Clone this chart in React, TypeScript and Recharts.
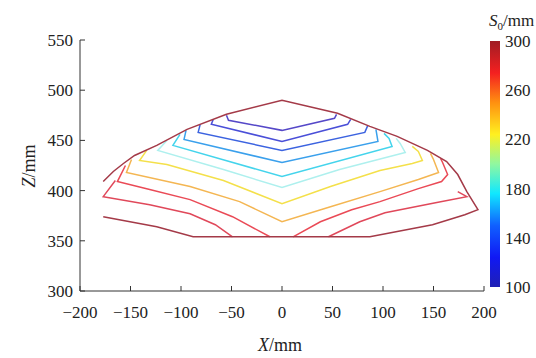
import React from 'react';
import { LineChart, Line, XAxis, YAxis, Label, BarChart, Bar } from 'recharts';

const FONT = '"Liberation Serif", "Times New Roman", serif';

type Pt = { x: number; z: number };
const pts = (a: number[][]): Pt[] => a.map(([x, z]) => ({ x, z }));

// axis ticks
const xTicks = [-200, -150, -100, -50, 0, 50, 100, 150, 200];
const zTicks = [300, 350, 400, 450, 500, 550];
const s0Ticks = [100, 140, 180, 220, 260, 300];
const s0Range = [{ name: 'S0', range: [100, 300] }];

// contour lines, [X, Z] in mm
const c120 = pts([[-55, 475], [-53, 470], [0, 460], [52, 472], [54, 476]]);
const c130 = pts([[-68, 471], [-70, 466], [0, 449], [65, 466], [68, 471]]);
const c140 = pts([[-81, 466], [-83, 458], [0, 440], [82, 458], [85, 465]]);
const c160 = pts([[-95, 460], [-97, 451], [0, 428], [95, 449], [93, 461]]);
const c180 = pts([[-101, 456], [-108, 445], [0, 414], [109, 444], [106, 452], [101, 457]]);
const c200 = pts([[-114, 450], [-123, 440], [-58, 421], [0, 403], [57, 421], [122, 438], [117, 447], [113, 452]]);
const c220 = pts([[-134, 440], [-141, 430], [-114, 426], [-58, 410], [0, 387], [48, 404], [97, 420], [129, 427], [139, 430], [135, 439], [129, 444]]);
const c240 = pts([[-149, 431], [-154, 418], [-91, 404], [-42, 389], [0, 369], [48, 384], [97, 399], [135, 411], [155, 418], [150, 431], [147, 437]]);
const c265L = pts([[-155, 425], [-163, 409], [-131, 401], [-91, 391], [-49, 374], [-12, 354]]);
const c265R = pts([[11, 354], [38, 369], [69, 381], [97, 389], [135, 402], [158, 409], [164, 416], [159, 428], [157, 432]]);
const c285L = pts([[-165, 410], [-177, 394], [-131, 386], [-91, 377], [-66, 366], [-49, 354]]);
const c285R = pts([[46, 354], [77, 369], [102, 378], [152, 388], [183, 394], [174, 399]]);
const c300 = pts([
  [-177, 409], [-167, 419], [-157, 427], [-146, 435], [-124, 445], [-94, 461], [-55, 476], [0, 490],
  [55, 477], [87, 464], [114, 454], [144, 440], [163, 429], [174, 416], [183, 399], [194, 381],
  [181, 376], [149, 366], [87, 354], [-88, 354], [-124, 364], [-177, 374],
]);

const contours = [
  { id: 'c120', color: '#5548c8', data: c120 },
  { id: 'c130', color: '#4a4fd8', data: c130 },
  { id: 'c140', color: '#3c63e0', data: c140 },
  { id: 'c160', color: '#3aa0ec', data: c160 },
  { id: 'c180', color: '#44d4ec', data: c180 },
  { id: 'c200', color: '#aef0ee', data: c200 },
  { id: 'c220', color: '#f4e04a', data: c220 },
  { id: 'c240', color: '#f4b652', data: c240 },
  { id: 'c265L', color: '#ea4a56', data: c265L },
  { id: 'c265R', color: '#ea4a56', data: c265R },
  { id: 'c285L', color: '#e0485a', data: c285L },
  { id: 'c285R', color: '#e0485a', data: c285R },
  { id: 'c300', color: '#a43a48', data: c300 },
];

const fmt = (v: number) => (v < 0 ? '\u2212' + Math.abs(v) : String(v));
const tickStyle = { fill: '#222', fontSize: 17, fontFamily: FONT };

function XTitle(props: any) {
  const vb = props.viewBox || { x: 80, width: 404 };
  return (
    <text x={vb.x + vb.width / 2 - 2} y={351} textAnchor="middle" fontFamily={FONT} fontSize={18} fill="#222">
      <tspan fontStyle="italic">X</tspan>/mm
    </text>
  );
}

function ZTitle() {
  return (
    <text x={35} y={166} transform="rotate(-90 35 166)" textAnchor="middle" fontFamily={FONT} fontSize={18} fill="#222">
      <tspan fontStyle="italic">Z</tspan>/mm
    </text>
  );
}

function S0Title() {
  return (
    <text x={4} y={26} fontFamily={FONT} fontSize={17} fill="#222">
      <tspan fontStyle="italic">S</tspan>
      <tspan fontSize={11} dy={4}>0</tspan>
      <tspan dy={-4}>/mm</tspan>
    </text>
  );
}

export default function App() {
  return (
    <div style={{ position: 'relative', width: 536, height: 358, background: '#fff' }}>
      <style>{'body{margin:0}'}</style>
      <LineChart width={536} height={358} margin={{ top: 40, right: 52, bottom: 37, left: 30 }}>
        <XAxis
          type="number"
          dataKey="x"
          domain={[-200, 200]}
          ticks={xTicks}
          allowDataOverflow
          height={30}
          tickFormatter={fmt}
          tick={tickStyle}
          tickSize={-5}
          tickMargin={20}
          stroke="#333"
        >
          <Label content={<XTitle />} />
        </XAxis>
        <YAxis
          type="number"
          dataKey="z"
          domain={[300, 550]}
          ticks={zTicks}
          allowDataOverflow
          width={50}
          tick={tickStyle}
          tickSize={-5}
          tickMargin={12}
          stroke="#333"
        >
          <Label content={<ZTitle />} />
        </YAxis>
        {contours.map((c) => (
          <Line
            key={c.id}
            data={c.data}
            dataKey="z"
            type="linear"
            stroke={c.color}
            strokeWidth={1.5}
            dot={false}
            activeDot={false}
            isAnimationActive={false}
          />
        ))}
      </LineChart>

      <div style={{ position: 'absolute', left: 485, top: 0 }}>
        <BarChart width={51} height={358} data={s0Range} margin={{ top: 41, right: 0, bottom: 71, left: 0 }} barCategoryGap={0}>
          <defs>
            <linearGradient id="jet" x1="0" y1="1" x2="0" y2="0">
              <stop offset="0" stopColor="#2020b4" />
              <stop offset="0.12" stopColor="#1018f4" />
              <stop offset="0.25" stopColor="#1060ff" />
              <stop offset="0.38" stopColor="#10e8ff" />
              <stop offset="0.5" stopColor="#90f8a0" />
              <stop offset="0.62" stopColor="#fff020" />
              <stop offset="0.75" stopColor="#ff9010" />
              <stop offset="0.87" stopColor="#f42020" />
              <stop offset="1" stopColor="#a01c24" />
            </linearGradient>
          </defs>
          <XAxis dataKey="name" type="category" hide />
          <YAxis
            orientation="right"
            type="number"
            domain={[100, 300]}
            ticks={s0Ticks}
            width={31}
            axisLine={false}
            tickLine={false}
            tickSize={0}
            tickMargin={0}
            tick={{ ...tickStyle, textAnchor: 'start' }}
          >
            <Label content={<S0Title />} />
          </YAxis>
          <Bar dataKey="range" barSize={10} fill="url(#jet)" isAnimationActive={false} />
        </BarChart>
      </div>
    </div>
  );
}
